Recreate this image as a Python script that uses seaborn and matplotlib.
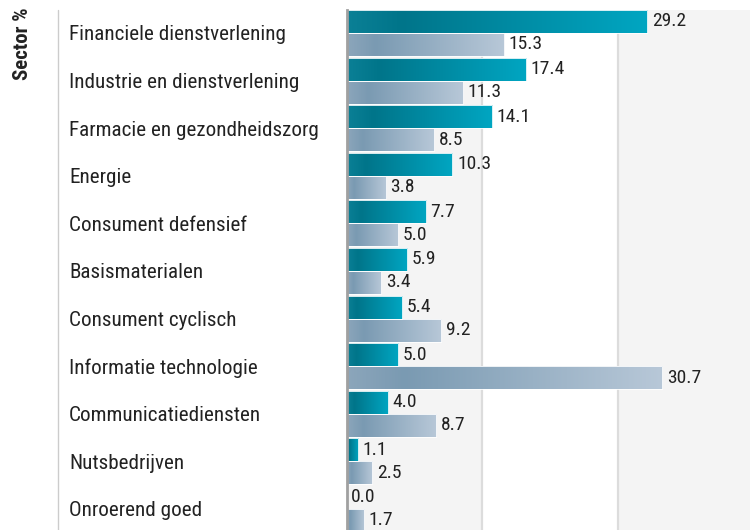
import numpy as np
import pandas as pd
import matplotlib
matplotlib.use("Agg")
import matplotlib.pyplot as plt
import seaborn as sns
from matplotlib.colors import LinearSegmentedColormap
from matplotlib.lines import Line2D
from matplotlib.transforms import blended_transform_factory

categories = ["Financiele dienstverlening", "Industrie en dienstverlening",
              "Farmacie en gezondheidszorg", "Energie", "Consument defensief",
              "Basismaterialen", "Consument cyclisch", "Informatie technologie",
              "Communicatiediensten", "Nutsbedrijven", "Onroerend goed"]
fund = [29.2, 17.4, 14.1, 10.3, 7.7, 5.9, 5.4, 5.0, 4.0, 1.1, 0.0]
index = [15.3, 11.3, 8.5, 3.8, 5.0, 3.4, 9.2, 30.7, 8.7, 2.5, 1.7]
series_names = ["Fonds", "Index"]
grid_ticks = [13.2, 26.4]
axis_title = "Sector %"

sns.set_theme(style="white")
plt.rcParams["font.family"] = ["Roboto Condensed", "Liberation Sans Narrow", "Roboto", "DejaVu Sans"]

df = pd.DataFrame({
    "Sector": categories * 2,
    "Waarde": fund + index,
    "Reeks": [series_names[0]] * len(categories) + [series_names[1]] * len(categories),
})

W, H = 750, 530
fig = plt.figure(figsize=(W / 100, H / 100), dpi=100)
x0_px = 346.5
top_px = 10
ax = fig.add_axes([x0_px / W, 0, 1 - x0_px / W, 1 - top_px / H])

sns.barplot(data=df, y="Sector", x="Waarde", hue="Reeks", orient="h",
            width=0.966, gap=0, legend=False, ax=ax,
            palette=["#0090a8", "#9ab2c6"], saturation=1)

xmax = (W - x0_px) / 10.29
ax.set_xlim(0, xmax)
ax.set_ylim(-0.483 + 520 / 47.6, -0.483)

# background bands + grid
ax.axvspan(0, grid_ticks[0], color="#f4f4f4", zorder=0, lw=0)
ax.axvspan(grid_ticks[1], xmax, color="#f4f4f4", zorder=0, lw=0)
ax.set_xticks(grid_ticks)
ax.xaxis.grid(True, color="#dcdcdc", lw=1.6, zorder=0.5)
ax.set_axisbelow(True)
ax.tick_params(axis="both", length=0, labelbottom=False, labelleft=False)
ax.set_xlabel("")
ax.set_ylabel("")
for s in ["top", "right", "bottom"]:
    ax.spines[s].set_visible(False)
ax.spines["left"].set_color("#a0a0a0")
ax.spines["left"].set_linewidth(2)
ax.spines["left"].set_zorder(5)

stops = [
    [(0.0, "#0b8096"), (0.18, "#00758a"), (1.0, "#00a6c2")],
    [(0.0, "#8ca6bb"), (0.18, "#7a9ab2"), (1.0, "#b8c8d8")],
]
grad = np.linspace(0, 1, 256).reshape(1, -1)
for ci, cont in enumerate(ax.containers):
    cmap = LinearSegmentedColormap.from_list(f"g{ci}", stops[ci])
    for p in cont.patches:
        x, y = p.get_xy()
        w, h = p.get_width(), p.get_height()
        p.set_facecolor("none")
        p.set_edgecolor("white")
        p.set_linewidth(0.6)
        p.set_zorder(3)
        if w <= 0:
            continue
        im = ax.imshow(grad, cmap=cmap, aspect="auto", extent=[x, x + w, y + h, y],
                       zorder=2, interpolation="bilinear")
        im.set_clip_path(p)
    ax.bar_label(cont, fmt="%.1f", padding=3.5, fontsize=14, color="#222222")

ax.set_xlim(0, xmax)
ax.set_ylim(-0.483 + 520 / 47.6, -0.483)

# category labels
tr = blended_transform_factory(fig.transFigure, ax.transData)
for i, c in enumerate(categories):
    ax.text(69 / W, i, c, transform=tr, ha="left", va="center_baseline",
            fontsize=15.2, color="#222222", clip_on=False)

# separator line
fig.add_artist(Line2D([58 / W, 58 / W], [0, 1 - top_px / H], transform=fig.transFigure,
                      color="#cccccc", lw=1))

fig.text(23 / W, 1 - 8 / H, axis_title, rotation=90, ha="center", va="top",
         fontsize=15, fontweight="bold", color="#222222")

fig.savefig("out.png", dpi=100)
